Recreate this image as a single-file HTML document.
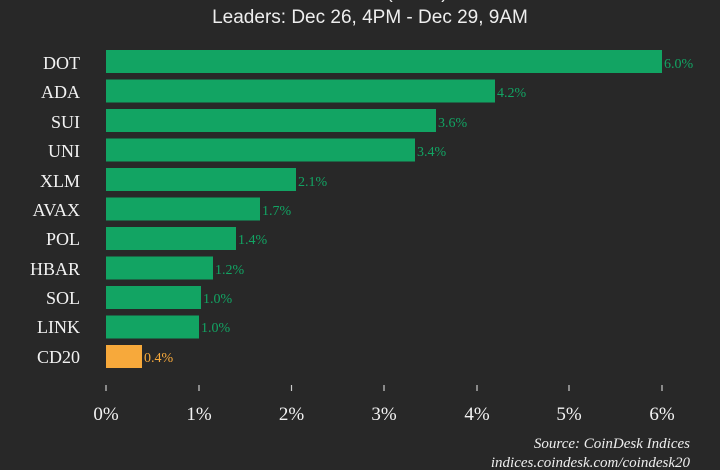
<!DOCTYPE html>
<html><head><style>
body{margin:0;background:#282828;width:720px;height:470px;overflow:hidden;font-family:"Liberation Serif",serif;}
svg{display:block}
</style></head><body>
<svg width="720" height="470" xmlns="http://www.w3.org/2000/svg">
<rect width="720" height="470" fill="#282828"/>
<text x="360" y="-2" fill="#eee" font-family="Liberation Sans,sans-serif" font-size="19" text-anchor="middle">CoinDesk 20 (CD20)</text>
<text x="370" y="23" fill="#eee" font-family="Liberation Sans,sans-serif" font-size="19" text-anchor="middle">Leaders: Dec 26, 4PM - Dec 29, 9AM</text>
<g font-size="18" fill="#f2f2f2" text-anchor="end">
<text x="80" y="69">DOT</text><text x="80" y="98">ADA</text><text x="80" y="128">SUI</text><text x="80" y="157">UNI</text><text x="80" y="187">XLM</text><text x="80" y="216">AVAX</text><text x="80" y="245">POL</text><text x="80" y="275">HBAR</text><text x="80" y="304">SOL</text><text x="80" y="333">LINK</text><text x="80" y="363">CD20</text>
</g>
<g fill="#12a463">
<rect x="106" y="50" width="556" height="23"/>
<rect x="106" y="79.5" width="389" height="23"/>
<rect x="106" y="109" width="330" height="23"/>
<rect x="106" y="138.5" width="309" height="23"/>
<rect x="106" y="168" width="190" height="23"/>
<rect x="106" y="197.5" width="154" height="23"/>
<rect x="106" y="227" width="130" height="23"/>
<rect x="106" y="256.5" width="107" height="23"/>
<rect x="106" y="286" width="95" height="23"/>
<rect x="106" y="315.5" width="93" height="23"/>
</g>
<rect x="106" y="345" width="36" height="23" fill="#f7a93b"/>
<g font-size="14" fill="#12a463">
<text x="664" y="68">6.0%</text><text x="497" y="97">4.2%</text><text x="438" y="127">3.6%</text><text x="417" y="156">3.4%</text><text x="298" y="186">2.1%</text><text x="262" y="215">1.7%</text><text x="238" y="244">1.4%</text><text x="215" y="274">1.2%</text><text x="203" y="303">1.0%</text><text x="201" y="332">1.0%</text>
<text x="144" y="362" fill="#f7a93b">0.4%</text>
</g>
<g stroke="#ccc" stroke-width="1.2">
<line x1="106" y1="385" x2="106" y2="391"/><line x1="199" y1="385" x2="199" y2="391"/><line x1="291.5" y1="385" x2="291.5" y2="391"/><line x1="384" y1="385" x2="384" y2="391"/><line x1="477" y1="385" x2="477" y2="391"/><line x1="569" y1="385" x2="569" y2="391"/><line x1="662" y1="385" x2="662" y2="391"/>
</g>
<g font-size="19" fill="#f2f2f2" text-anchor="middle">
<text x="106" y="420">0%</text><text x="199" y="420">1%</text><text x="291.5" y="420">2%</text><text x="384" y="420">3%</text><text x="477" y="420">4%</text><text x="569" y="420">5%</text><text x="662" y="420">6%</text>
</g>
<g font-size="15" fill="#eee" font-style="italic" text-anchor="end">
<text x="690" y="448">Source: CoinDesk Indices</text>
<text x="690" y="467">indices.coindesk.com/coindesk20</text>
</g>
</svg>
</body></html>
